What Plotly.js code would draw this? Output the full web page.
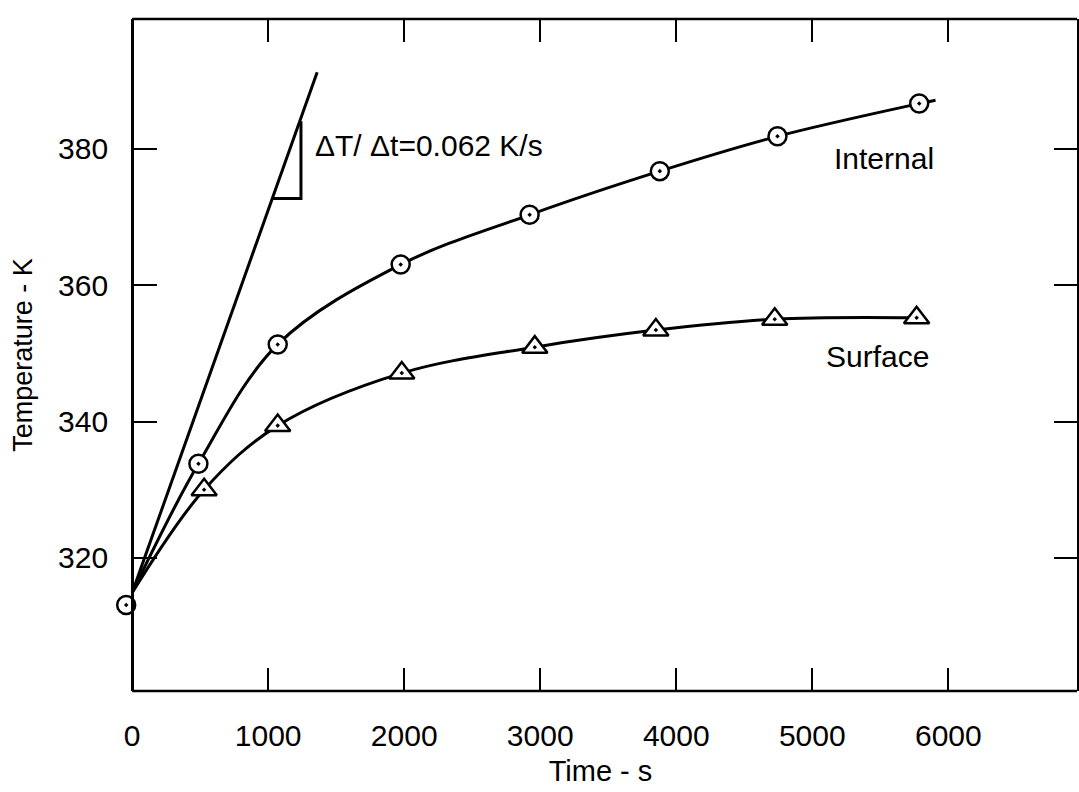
<!DOCTYPE html>
<html>
<head>
<meta charset="utf-8">
<script src="https://cdn.plot.ly/plotly-3.0.1.min.js"></script>
<style>html,body{margin:0;padding:0;background:#fff;}#chart{width:1079px;height:792px;}</style>
</head>
<body>
<div id="chart"></div>
<script>
// Measured points (time in s, temperature in K)
const timeInternal = [-44, 487, 1070, 1974, 2922, 3879, 4744, 5786];
const tempInternal = [313.1, 333.8, 351.3, 363.0, 370.3, 376.7, 381.8, 386.6];
const timeSurface = [529, 1070, 1982, 2960, 3850, 4724, 5767];
const tempSurface = [330.0, 339.4, 347.1, 350.9, 353.4, 355.0, 355.2];

// Faired curves drawn through the points
const curveInternalT = [0, 487, 1070, 1974, 2922, 3879, 4744, 5786, 5906];
const curveInternalY = [314.9, 333.8, 351.3, 363.0, 370.3, 376.7, 381.8, 386.6, 387.1];
const curveSurfaceT = [0, 529, 1070, 1982, 2960, 3850, 4724, 5767];
const curveSurfaceY = [314.9, 330.0, 339.4, 347.1, 350.9, 353.4, 355.0, 355.2];

// Initial slope line and slope triangle
const slopeT = [0, 1360];
const slopeY = [314.9, 391.2];
const triT = [1036, 1241, 1241];
const triY = [372.7, 372.7, 384.0];

const xTicks = [0, 1000, 2000, 3000, 4000, 5000, 6000];
const yTicks = [320, 340, 360, 380];
const labels = {internal: 'Internal', surface: 'Surface', slope: 'ΔT/ Δt=0.062 K/s'};

const X_MIN = -60, X_MAX = 6946, Y_MIN = 300.5, Y_MAX = 399;
const FONT = 'Liberation Sans, Arial, Helvetica, sans-serif';
const FS = 30;
const lineStyle = {color: '#000', width: 3};

const traces = [
  {x: slopeT, y: slopeY, mode: 'lines', line: lineStyle, hoverinfo: 'skip', showlegend: false},
  {x: triT, y: triY, mode: 'lines', line: lineStyle, hoverinfo: 'skip', showlegend: false},
  {x: curveInternalT, y: curveInternalY, mode: 'lines', line: Object.assign({shape: 'spline', smoothing: 1}, lineStyle), hoverinfo: 'skip', showlegend: false},
  {x: curveSurfaceT, y: curveSurfaceY, mode: 'lines', line: Object.assign({shape: 'spline', smoothing: 1}, lineStyle), hoverinfo: 'skip', showlegend: false},
  {x: timeInternal, y: tempInternal, mode: 'markers', name: 'Internal', cliponaxis: false,
   marker: {symbol: 'circle-dot', size: 18, color: '#fff', line: {color: '#000', width: 2.5}}, showlegend: false},
  {x: timeSurface, y: tempSurface, mode: 'markers', name: 'Surface', cliponaxis: false,
   marker: {symbol: 'triangle-up-dot', size: 22, color: '#fff', line: {color: '#000', width: 2.5}}, showlegend: false},
  {x: [], y: [], yaxis: 'y2', mode: 'lines', hoverinfo: 'skip', showlegend: false}
];

const tickCommon = {
  ticks: 'inside', ticklen: 23, tickwidth: 2, tickcolor: '#000',
  showgrid: false, zeroline: false,
  tickfont: {family: FONT, size: FS, color: '#000'}
};

const layout = {
  width: 1079, height: 792,
  margin: {l: 124, r: 2, t: 19, b: 101},
  paper_bgcolor: '#fff', plot_bgcolor: '#fff',
  showlegend: false,
  font: {family: FONT, size: FS, color: '#000'},
  xaxis: Object.assign({}, tickCommon, {
    range: [X_MIN, X_MAX], tickvals: xTicks, ticktext: xTicks.map(String),
    showline: true, linecolor: 'rgba(0,0,0,0)', linewidth: 2.5, mirror: 'ticks',
    ticklabelstandoff: 16,
    title: {text: 'Time - s', font: {family: FONT, size: 29, color: '#000'}, standoff: 10}
  }),
  yaxis: Object.assign({}, tickCommon, {
    range: [Y_MIN, Y_MAX], tickvals: yTicks, ticktext: yTicks.map(String),
    anchor: 'free', position: (0 - X_MIN) / (X_MAX - X_MIN), side: 'left',
    showline: true, linecolor: '#000', linewidth: 2.5,
    ticklabelstandoff: 17,
    title: {text: 'Temperature - K', font: {family: FONT, size: 27, color: '#000'}, standoff: 16}
  }),
  yaxis2: Object.assign({}, tickCommon, {
    range: [Y_MIN, Y_MAX], tickvals: yTicks, overlaying: 'y', side: 'right', anchor: 'x',
    showline: true, linecolor: '#000', linewidth: 2.5, showticklabels: false
  }),
  shapes: [
    {type: 'line', xref: 'x', yref: 'paper', x0: 0, x1: X_MAX, y0: 0, y1: 0, line: {color: '#000', width: 2.5}},
    {type: 'line', xref: 'x', yref: 'paper', x0: 0, x1: X_MAX, y0: 1, y1: 1, line: {color: '#000', width: 2.5}}
  ],
  annotations: [
    {x: 5527, y: 378.5, xref: 'x', yref: 'y', text: labels.internal, showarrow: false, xanchor: 'center', yanchor: 'middle', font: {family: FONT, size: FS, color: '#000'}},
    {x: 5476, y: 349.6, xref: 'x', yref: 'y', text: labels.surface, showarrow: false, xanchor: 'center', yanchor: 'middle', font: {family: FONT, size: FS, color: '#000'}},
    {x: 1330, y: 380.4, xref: 'x', yref: 'y', text: labels.slope, showarrow: false, xanchor: 'left', yanchor: 'middle', font: {family: FONT, size: FS, color: '#000'}}
  ]
};

Plotly.newPlot('chart', traces, layout, {staticPlot: true, displayModeBar: false});
</script>
</body>
</html>
